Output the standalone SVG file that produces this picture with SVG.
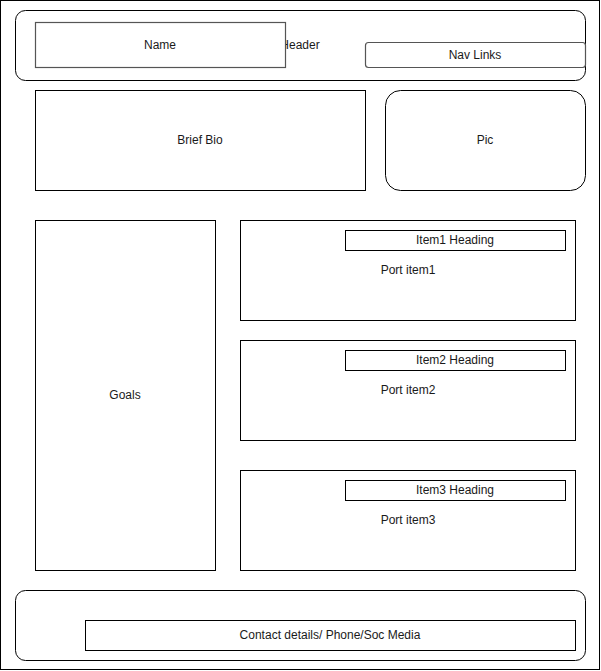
<svg xmlns="http://www.w3.org/2000/svg" width="601" height="671" viewBox="0 0 601 671">
<style>
.b{fill:#fff;stroke:#000;stroke-width:1}
.g{fill:#fff;stroke:#555;stroke-width:1.2}
text{font-family:"Liberation Sans",Arial,sans-serif;font-size:12px;fill:#1a1a1a;text-anchor:middle;dominant-baseline:central}
</style>
<rect width="601" height="671" fill="#fff"/>
<rect x="0.5" y="0.5" width="599" height="669" fill="none" stroke="#000"/>
<g id="header"><rect class="b" x="15.5" y="10.5" width="570" height="70" rx="10"/><text x="300" y="45">Header</text></g>
<g id="name"><rect class="g" x="35.5" y="22.5" width="250" height="45"/><text x="160" y="45">Name</text></g>
<g id="nav"><rect class="g" x="365.5" y="42.5" width="220" height="25" rx="3"/><text x="475" y="55">Nav Links</text></g>
<g id="bio"><rect class="b" x="35.5" y="90.5" width="330" height="100"/><text x="200" y="140">Brief Bio</text></g>
<g id="pic"><rect class="b" x="385.5" y="90.5" width="200" height="100" rx="15"/><text x="485" y="140">Pic</text></g>
<g id="goals"><rect class="b" x="35.5" y="220.5" width="180" height="350"/><text x="125" y="395">Goals</text></g>
<g id="item1"><rect class="b" x="240.5" y="220.5" width="335" height="100"/><text x="408" y="270">Port item1</text></g>
<g id="item1h"><rect class="b" x="345.5" y="230.5" width="220" height="20"/><text x="455" y="240">Item1 Heading</text></g>
<g id="item2"><rect class="b" x="240.5" y="340.5" width="335" height="100"/><text x="408" y="390">Port item2</text></g>
<g id="item2h"><rect class="b" x="345.5" y="350.5" width="220" height="20"/><text x="455" y="360">Item2 Heading</text></g>
<g id="item3"><rect class="b" x="240.5" y="470.5" width="335" height="100"/><text x="408" y="520">Port item3</text></g>
<g id="item3h"><rect class="b" x="345.5" y="480.5" width="220" height="20"/><text x="455" y="490">Item3 Heading</text></g>
<g id="footer"><rect class="b" x="15.5" y="590.5" width="570" height="70" rx="10"/></g>
<g id="contact"><rect class="b" x="85.5" y="620.5" width="490" height="30"/><text x="330" y="635">Contact details/ Phone/Soc Media</text></g>
<g id="connectors"/>
</svg>
